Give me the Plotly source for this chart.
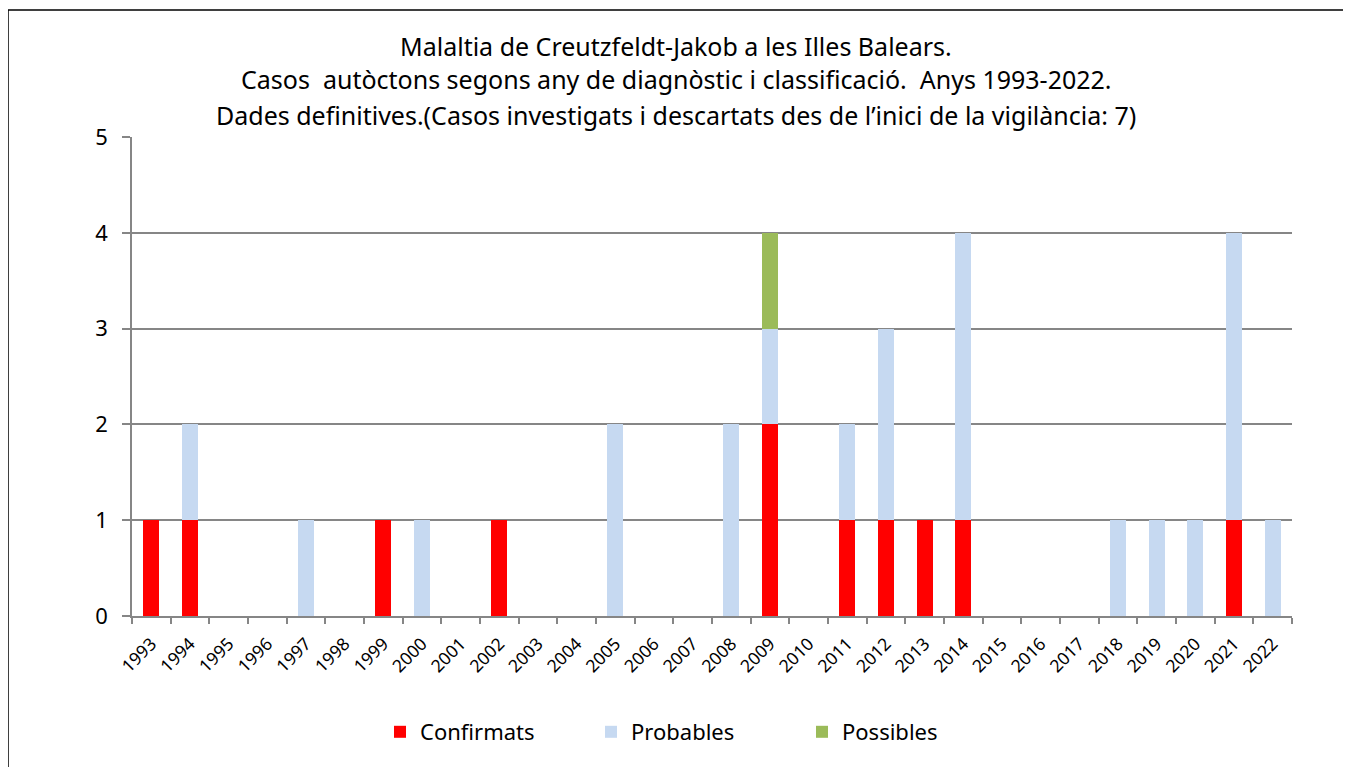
import plotly.graph_objects as go

years = [str(y) for y in range(1993, 2023)]
confirmats = [1,1,0,0,0,0,1,0,0,1,0,0,0,0,0,0,2,0,1,1,1,1,0,0,0,0,0,0,1,0]
probables  = [0,1,0,0,1,0,0,1,0,0,0,0,2,0,0,2,1,0,1,2,0,3,0,0,0,1,1,1,3,1]
possibles  = [0,0,0,0,0,0,0,0,0,0,0,0,0,0,0,0,1,0,0,0,0,0,0,0,0,0,0,0,0,0]

title_lines = [
    "Malaltia de Creutzfeldt-Jakob a les Illes Balears.",
    "Casos  autòctons segons any de diagnòstic i classificació.  Anys 1993-2022.",
    "Dades definitives.(Casos investigats i descartats des de l\u2019inici de la vigilància: 7)",
]

FONT = "Noto Sans"
fig = go.Figure()
fig.add_bar(x=years, y=confirmats, name="Confirmats", marker_color="#FF0000", marker_line_width=0)
fig.add_bar(x=years, y=probables, name="Probables", marker_color="#C6D9F1", marker_line_width=0)
fig.add_bar(x=years, y=possibles, name="Possibles", marker_color="#9BBB59", marker_line_width=0)

# page body has an 8px margin, so work in screen pixels minus 8
OFF = 8
W, H = 1343, 759
L, R, T, B = 132 - OFF, 59, 137 - OFF, 151
pw, ph = W - L - R, H - T - B

def px_x(x):
    return (x - OFF - L) / pw

def px_y(y):
    return (H - B - (y - OFF)) / ph

for text, ypx in zip(title_lines, [46, 79, 115]):
    fig.add_annotation(text=text, xref="paper", yref="paper", x=px_x(676), y=px_y(ypx),
                       xanchor="center", yanchor="middle", showarrow=False,
                       font=dict(family=FONT, size=25, color="#000000"))

fig.add_shape(type="rect", xref="paper", yref="paper",
              x0=px_x(8), x1=px_x(1344), y0=px_y(820), y1=px_y(10),
              line=dict(color="#000000", width=1.5), fillcolor="rgba(0,0,0,0)", layer="below")

fig.update_layout(
    barmode="stack", bargap=0.59,
    width=W, height=H,
    margin=dict(l=L, r=R, t=T, b=B),
    paper_bgcolor="white", plot_bgcolor="white",
    font=dict(family=FONT, color="#000000"),
    showlegend=True,
    legend=dict(orientation="h", x=px_x(380), xanchor="left", y=px_y(732), yanchor="middle",
                font=dict(family=FONT, size=22, color="#000000"),
                entrywidth=166, entrywidthmode="pixels", traceorder="normal",
                itemclick=False),
)
fig.update_xaxes(type="category", showline=True, linecolor="#868686", linewidth=1.5,
                 ticks="outside", tickson="boundaries", ticklen=6, tickcolor="#868686", tickwidth=1.5,
                 tickangle=-45, tickfont=dict(family=FONT, size=17.5, color="#000000"),
                 ticklabelstandoff=9,
                 showgrid=False, mirror=False)
fig.update_yaxes(range=[0, 5], dtick=1, showline=True, linecolor="#868686", linewidth=1.5,
                 ticks="outside", ticklen=8, tickcolor="#868686", tickwidth=1.5,
                 showgrid=True, gridcolor="#868686", gridwidth=1.5, zeroline=False,
                 ticklabelstandoff=10,
                 tickfont=dict(family=FONT, size=22, color="#000000"))

fig.write_html("out.html")
